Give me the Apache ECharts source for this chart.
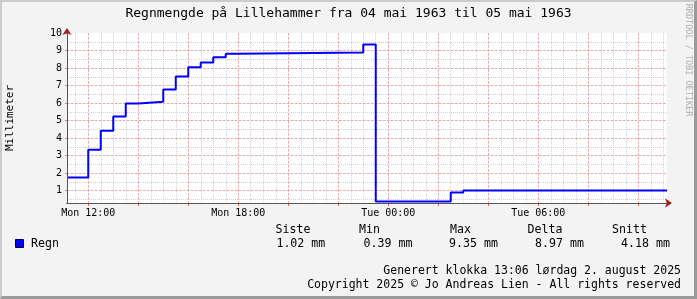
<!DOCTYPE html>
<html>
<head>
<meta charset="utf-8">
<script src="https://cdn.jsdelivr.net/npm/echarts@6/dist/echarts.min.js"></script>
<style>
html,body{margin:0;padding:0;background:#f3f3f3;}
#chart{position:absolute;left:0;top:0;width:697px;height:299px;}
#frame{position:absolute;left:0;top:0;width:697px;height:299px;box-sizing:border-box;
border-left:2px solid #cbcbcb;border-top:2px solid #cbcbcb;border-right:3px solid #9a9a9a;border-bottom:3px solid #9a9a9a;pointer-events:none;}
</style>
</head>
<body>
<div id="chart"></div>
<div id="frame"></div>
<script>
// ---- data ----
const titleText = 'Regnmengde på Lillehammer fra 04 mai 1963 til 05 mai 1963';
const yAxisName = 'Millimeter';
const seriesName = 'Regn';
const startHour = 11.15;   // hours since Mon 00:00
const endHour = 35.15;
const stepHours = [11.15, 12.0, 12.5, 13.0, 13.5, 14.0, 15.0, 15.5, 16.0, 16.5, 17.0, 17.5, 18.0, 23.0, 23.5, 26.5, 27.0, 35.15];
const rainMm   = [1.76, 3.34, 4.42, 5.24, 5.98, 6.08, 6.78, 7.52, 8.04, 8.32, 8.61, 8.82, 8.89, 9.35, 0.39, 0.90, 1.02, 1.02];
const yMin = 0.3, yMax = 10;
const xLabelHours = [12, 18, 24, 30];
const xLabelTexts = ['Mon 12:00', 'Mon 18:00', 'Tue 00:00', 'Tue 06:00'];
const statNames  = ['Siste', 'Min', 'Max', 'Delta', 'Snitt'];
const statValues = ['1.02 mm', '0.39 mm', '9.35 mm', '8.97 mm', '4.18 mm'];
const footerLines = ['Generert klokka 13:06 lørdag 2. august 2025', 'Copyright 2025 © Jo Andreas Lien - All rights reserved'];
const sideText = 'RRDTOOL / TOBI OETIKER';

// ---- chart ----
const FONT = '"DejaVu Sans Mono", monospace';
const chart = echarts.init(document.getElementById('chart'), null, {renderer: 'canvas'});
const minorGrid = {show: true, showMinLine: false, showMaxLine: false, lineStyle: {color: '#d2d2d2', width: 1, type: [1, 1]}};
const majorGrid = {show: true, showMinLine: false, showMaxLine: false, lineStyle: {color: '#f4a4a4', width: 1, type: [2, 2]}};
const noAxis = {axisLine: {show: false}, axisTick: {show: false}, axisLabel: {show: false}};
const plotRect = {left: 67, top: 33, width: 600, height: 170};

const statNameX = [275.6, 359, 450, 527.6, 612];
const statValX  = [276.4, 363.6, 449, 535, 621];
const graphics = [
  {type: 'text', left: 'center', top: 7, style: {text: titleText, font: '13px ' + FONT, fill: '#000'}},
  {type: 'text', x: 10.5, y: 118, rotation: Math.PI / 2, style: {text: yAxisName, font: '11px ' + FONT, fill: '#000', align: 'center', verticalAlign: 'middle'}},
  {type: 'text', x: 688, y: 60, rotation: -Math.PI / 2, style: {text: sideText, font: '8.5px ' + FONT, fill: '#b0b0b0', align: 'center', verticalAlign: 'middle'}},
  {type: 'rect', shape: {x: 15.5, y: 239.5, width: 8, height: 8}, style: {fill: '#0000ff', stroke: '#000030', lineWidth: 1}},
  {type: 'text', x: 31, y: 243.5, style: {text: seriesName, font: '11.6px ' + FONT, fill: '#000', verticalAlign: 'middle'}}
];
statNames.forEach((n, i) => graphics.push({type: 'text', x: statNameX[i], y: 229.5, style: {text: n, font: '11.6px ' + FONT, fill: '#000', verticalAlign: 'middle'}}));
statValues.forEach((v, i) => graphics.push({type: 'text', x: statValX[i], y: 243.5, style: {text: v, font: '11.6px ' + FONT, fill: '#000', verticalAlign: 'middle'}}));
footerLines.forEach((t, i) => graphics.push({type: 'text', x: 681, y: 271 + i * 14, style: {text: t, font: '11.5px ' + FONT, fill: '#000', align: 'right', verticalAlign: 'middle'}}));

chart.setOption({
  animation: false,
  backgroundColor: '#f3f3f3',
  grid: [
    Object.assign({show: true, backgroundColor: '#ffffff', borderWidth: 0, z: 0}, plotRect),
    Object.assign({show: false, z: 0}, plotRect)
  ],
  xAxis: [
    {gridIndex: 0, type: 'value', position: 'bottom', min: startHour, max: endHour, splitNumber: 12, splitLine: majorGrid, z: 2,
     axisLine: {show: true, symbol: ['none', 'arrow'], symbolSize: [7, 7], symbolOffset: [0, 5], lineStyle: {color: '#a02020', width: 1}},
     axisTick: {show: true, inside: false, length: 3, lineStyle: {color: '#e06060'}},
     axisLabel: {show: true, margin: 5, fontSize: 10, fontFamily: FONT, color: '#000', showMinLabel: false, showMaxLabel: false,
       formatter: v => { const k = xLabelHours.indexOf(Math.round(v * 1000) / 1000); return k >= 0 ? xLabelTexts[k] : ''; }}},
    Object.assign({gridIndex: 0, type: 'value', position: 'bottom', min: startHour, max: endHour, splitNumber: 12, splitLine: {show: false}, z: 5}, noAxis,
      {axisLine: {show: true, lineStyle: {color: '#555', width: 1}}}),
    Object.assign({gridIndex: 1, type: 'value', position: 'bottom', min: startHour, max: endHour, splitNumber: 48, splitLine: minorGrid, z: 1}, noAxis)
  ],
  yAxis: [
    {gridIndex: 0, type: 'value', position: 'left', min: yMin, max: yMax, splitNumber: 10, splitLine: majorGrid, z: 2,
     axisLine: {show: true, symbol: ['none', 'arrow'], symbolSize: [7, 7], symbolOffset: [0, 5], lineStyle: {color: '#a02020', width: 1}},
     axisTick: {show: true, inside: false, length: 2, lineStyle: {color: '#999'}},
     axisLabel: {show: true, margin: 5, fontSize: 10, fontFamily: FONT, color: '#000', showMinLabel: false,
       formatter: v => Math.abs(v - Math.round(v)) < 1e-6 ? String(Math.round(v)) : ''}},
    Object.assign({gridIndex: 0, type: 'value', position: 'left', min: yMin, max: yMax, splitNumber: 10, splitLine: {show: false}, z: 5}, noAxis,
      {axisLine: {show: true, lineStyle: {color: '#555', width: 1}}}),
    Object.assign({gridIndex: 1, type: 'value', position: 'left', min: yMin, max: yMax, splitNumber: 20, splitLine: minorGrid, z: 1}, noAxis)
  ],
  series: [{
    name: seriesName, type: 'line', step: 'end', xAxisIndex: 0, yAxisIndex: 0,
    data: stepHours.map((h, i) => [h, rainMm[i]]),
    showSymbol: false, symbol: 'none', z: 3,
    lineStyle: {color: '#0000ff', width: 2}
  }],
  graphic: graphics
});
</script>
</body>
</html>
